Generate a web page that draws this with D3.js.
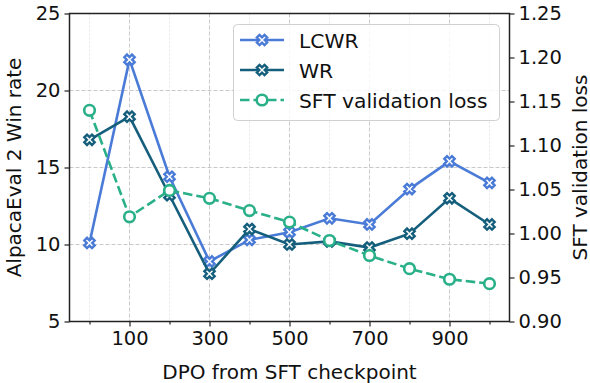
<!DOCTYPE html>
<html>
<head>
<meta charset="utf-8">
<script src="https://cdn.jsdelivr.net/npm/d3@7"></script>
<style>
  body { margin: 0; background: white; }
  text { font-family: "DejaVu Sans", sans-serif; fill: #111; }
</style>
</head>
<body>
<div id="canvas"></div>
<script>
// data
const steps = [0, 100, 200, 300, 400, 500, 600, 700, 800, 900, 1000];
const lcwr = [10.1, 22.0, 14.4, 8.9, 10.3, 10.8, 11.7, 11.3, 13.6, 15.4, 14.0];
const wr = [16.8, 18.3, 13.2, 8.1, 11.0, 10.0, 10.2, 9.8, 10.7, 13.0, 11.3];
const sftLoss = [1.140, 1.019, 1.049, 1.040, 1.026, 1.013, 0.992, 0.975, 0.960, 0.948, 0.943];
const xMajorTicks = [100, 300, 500, 700, 900];
const xMinorTicks = [0, 200, 400, 600, 800, 1000];
const yLeftTicks = [5, 10, 15, 20, 25];
const yRightTicks = [0.90, 0.95, 1.00, 1.05, 1.10, 1.15, 1.20, 1.25];

const colors = { lcwr: "#4a7bd6", wr: "#155f7d", sft: "#29b088" };

const W = 590, H = 383;
const margin = { left: 69.5, right: 80.5, top: 13.5, bottom: 61.5 };
const width = W - margin.left - margin.right;
const height = H - margin.top - margin.bottom;

const svg = d3.select("#canvas").append("svg")
    .attr("width", W)
    .attr("height", H);

const g = svg.append("g")
    .attr("transform", "translate(" + margin.left + "," + margin.top + ")");

const x = d3.scaleLinear().domain([-50, 1050]).range([0, width]);
const yL = d3.scaleLinear().domain([5, 25]).range([height, 0]);
const yR = d3.scaleLinear().domain([0.90, 1.25]).range([height, 0]);

// grid
g.append("g").selectAll("line")
    .data(xMinorTicks)
    .enter().append("line")
    .attr("x1", d => x(d)).attr("x2", d => x(d))
    .attr("y1", 0).attr("y2", height)
    .attr("stroke", "#e4e4e4")
    .attr("stroke-width", 1)
    .attr("stroke-dasharray", "2 2");

g.append("g").selectAll("line")
    .data(xMajorTicks)
    .enter().append("line")
    .attr("x1", d => x(d)).attr("x2", d => x(d))
    .attr("y1", 0).attr("y2", height)
    .attr("stroke", "#c8c8c8")
    .attr("stroke-width", 1)
    .attr("stroke-dasharray", "4 2");

g.append("g").selectAll("line")
    .data(yLeftTicks.slice(1, -1))
    .enter().append("line")
    .attr("x1", 0).attr("x2", width)
    .attr("y1", d => yL(d)).attr("y2", d => yL(d))
    .attr("stroke", "#c8c8c8")
    .attr("stroke-width", 1)
    .attr("stroke-dasharray", "4 2");

// axes
g.append("g")
    .attr("transform", "translate(0," + height + ")")
    .call(d3.axisBottom(x).tickValues(xMajorTicks).tickSize(5).tickPadding(5));
g.append("g")
    .attr("transform", "translate(0," + height + ")")
    .call(d3.axisBottom(x).tickValues(xMinorTicks).tickSize(3).tickFormat(""));

g.append("g")
    .call(d3.axisLeft(yL).tickValues(yLeftTicks).tickSize(5).tickPadding(4));

g.append("g")
    .attr("transform", "translate(" + width + ",0)")
    .call(d3.axisRight(yR).tickValues(yRightTicks).tickFormat(d3.format(".2f")).tickSize(5).tickPadding(4));

g.selectAll(".domain").remove();
g.selectAll(".tick line").attr("stroke", "#222").attr("stroke-width", 1.2);
g.selectAll(".tick text")
    .attr("font-family", "DejaVu Sans")
    .attr("font-size", "19.5px")
    .attr("fill", "#111");

// spines
g.append("rect")
    .attr("x", 0).attr("y", 0)
    .attr("width", width).attr("height", height)
    .attr("fill", "none")
    .attr("stroke", "#222")
    .attr("stroke-width", 1.5);

// axis titles
g.append("text")
    .attr("x", width / 2).attr("y", height + 57.5)
    .attr("text-anchor", "middle")
    .attr("font-size", "20px")
    .text("DPO from SFT checkpoint");

g.append("text")
    .attr("transform", "translate(" + (-48.5) + "," + (height / 2) + ") rotate(-90)")
    .attr("text-anchor", "middle")
    .attr("font-size", "20px")
    .text("AlpacaEval 2 Win rate");

g.append("text")
    .attr("transform", "translate(" + (width + 77) + "," + (height / 2) + ") rotate(-90)")
    .attr("text-anchor", "middle")
    .attr("font-size", "20px")
    .text("SFT validation loss");

// X-shaped marker, filled white with thick coloured edge
function xMarkerPath(L, w) {
    const pts = [[-w, -L], [w, -L], [w, -w], [L, -w], [L, w], [w, w], [w, L], [-w, L], [-w, w], [-L, w], [-L, -w], [-w, -w]];
    const c = Math.SQRT1_2;
    return "M" + pts.map(p => [(p[0] - p[1]) * c, (p[0] + p[1]) * c].join(",")).join("L") + "Z";
}
const xPath = xMarkerPath(5.4, 1.9);

function drawSeries(values, yScale, color, marker, dash) {
    const line = d3.line()
        .x((d, i) => x(steps[i]))
        .y(d => yScale(d));
    g.append("path")
        .attr("d", line(values))
        .attr("fill", "none")
        .attr("stroke", color)
        .attr("stroke-width", 2.6)
        .attr("stroke-dasharray", dash);
    const pts = g.append("g").selectAll("g")
        .data(values)
        .enter().append("g")
        .attr("transform", (d, i) => "translate(" + x(steps[i]) + "," + yScale(d) + ")");
    if (marker === "x") {
        pts.append("path")
            .attr("d", xPath)
            .attr("fill", "white")
            .attr("stroke", color)
            .attr("stroke-width", 2.4)
            .attr("stroke-linejoin", "miter");
    } else {
        pts.append("circle")
            .attr("r", 5.3)
            .attr("fill", "white")
            .attr("stroke", color)
            .attr("stroke-width", 2.6);
    }
}

drawSeries(lcwr, yL, colors.lcwr, "x", null);
drawSeries(wr, yL, colors.wr, "x", null);
drawSeries(sftLoss, yR, colors.sft, "o", "9.5 4");

// legend
const legendItems = [
    { name: "LCWR", color: colors.lcwr, marker: "x", dash: null },
    { name: "WR", color: colors.wr, marker: "x", dash: null },
    { name: "SFT validation loss", color: colors.sft, marker: "o", dash: "9.5 4" }
];
const legend = svg.append("g").attr("transform", "translate(233,24)");
legend.append("rect")
    .attr("x", 0.5).attr("y", 0.5)
    .attr("width", 266).attr("height", 96)
    .attr("rx", 4)
    .attr("fill", "white").attr("fill-opacity", 0.85)
    .attr("stroke", "#d0d0d0");
const rows = legend.selectAll(".row")
    .data(legendItems)
    .enter().append("g")
    .attr("transform", (d, i) => "translate(0," + (16 + i * 30) + ")");
rows.append("line")
    .attr("x1", 7).attr("x2", 51)
    .attr("stroke", d => d.color)
    .attr("stroke-width", 2.6)
    .attr("stroke-dasharray", d => d.dash);
rows.each(function(d) {
    const r = d3.select(this);
    if (d.marker === "x") {
        r.append("path").attr("d", xPath)
            .attr("transform", "translate(29,0)")
            .attr("fill", "white").attr("stroke", d.color).attr("stroke-width", 2.4);
    } else {
        r.append("circle").attr("cx", 29).attr("r", 5.3)
            .attr("fill", "white").attr("stroke", d.color).attr("stroke-width", 2.6);
    }
});
rows.append("text")
    .attr("x", 66).attr("y", 7.5)
    .attr("font-size", "20.3px")
    .text(d => d.name);
</script>
</body>
</html>
